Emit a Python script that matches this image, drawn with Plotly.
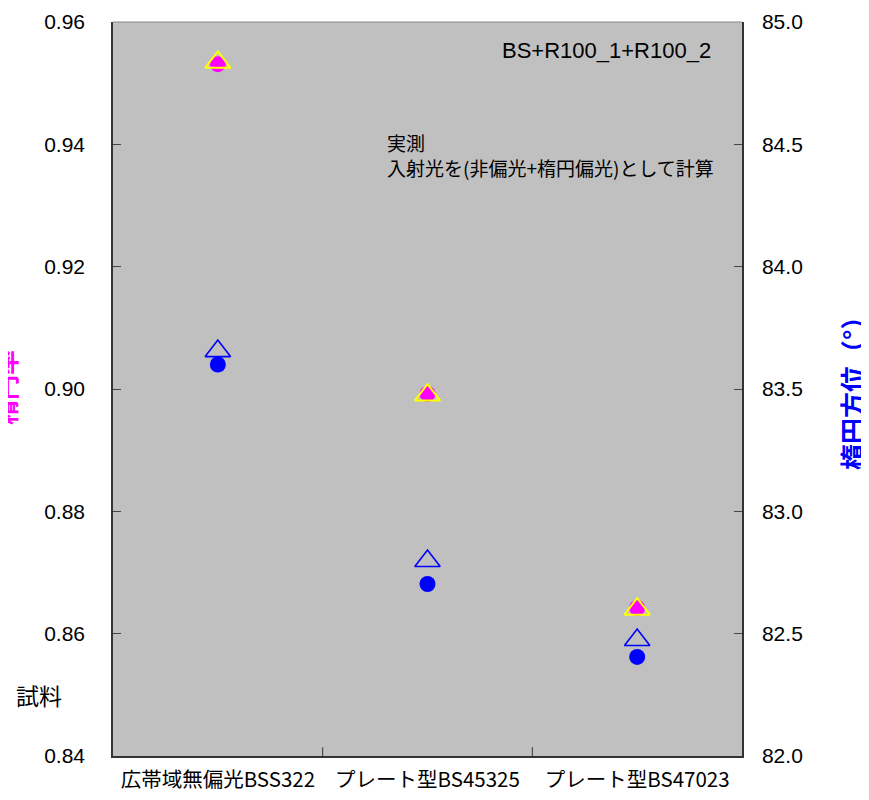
import plotly.graph_objects as go

categories = ["広帯域無偏光BSS322", "プレート型BS45325", "プレート型BS47023"]
ellip_meas = [0.9531, 0.8992, 0.8642]
ellip_calc = [0.9534, 0.8990, 0.8640]
azim_meas = [83.60, 82.703, 82.405]
azim_calc = [83.655, 82.797, 82.474]

left_ticks = [0.84, 0.86, 0.88, 0.90, 0.92, 0.94, 0.96]
right_ticks = [82.0, 82.5, 83.0, 83.5, 84.0, 84.5, 85.0]

xi = list(range(len(categories)))

fig = go.Figure()
fig.add_trace(go.Scatter(x=xi, y=ellip_meas, mode="markers", name="楕円率 実測",
                         marker=dict(symbol="circle", size=16, color="#ff00ff"), yaxis="y"))
fig.add_trace(go.Scatter(x=xi, y=ellip_calc, mode="markers", name="楕円率 計算",
                         marker=dict(symbol="triangle-up-open", size=22, color="#ffff00",
                                     line=dict(width=2, color="#ffff00")), yaxis="y"))
fig.add_trace(go.Scatter(x=xi, y=azim_meas, mode="markers", name="楕円方位 実測",
                         marker=dict(symbol="circle", size=16, color="#0000ff"), yaxis="y2"))
fig.add_trace(go.Scatter(x=xi, y=azim_calc, mode="markers", name="楕円方位 計算",
                         marker=dict(symbol="triangle-up-open", size=22, color="#0000ff",
                                     line=dict(width=1.6, color="#0000ff")), yaxis="y2"))

tickfont = dict(family="Liberation Sans, Arial, sans-serif", size=21, color="black")

fig.update_layout(
    width=869, height=800,
    margin=dict(l=105, r=135, t=14, b=52),
    paper_bgcolor="white", plot_bgcolor="#c0c0c0",
    showlegend=False,
    xaxis=dict(range=[-0.5, 2.5], tickmode="array", tickvals=xi, ticktext=categories,
               ticks="", showgrid=False, zeroline=False, showline=True, linecolor="#333333",
               linewidth=1.5, tickfont=dict(family="Noto Sans CJK JP", size=20.5, color="black"),
               ticklabelstandoff=5, automargin=False),
    yaxis=dict(range=[0.84, 0.96], tickmode="array", tickvals=left_ticks,
               ticktext=[f"{v:.2f}" for v in left_ticks], ticks="inside", ticklen=8,
               tickcolor="#444444", showgrid=False, zeroline=False, showline=True,
               linecolor="#333333", linewidth=1.5, tickfont=tickfont, ticklabelstandoff=22,
               automargin=False),
    yaxis2=dict(range=[82.0, 85.0], overlaying="y", side="right", tickmode="array",
                tickvals=right_ticks, ticktext=[f"{v:.1f}" for v in right_ticks],
                ticks="inside", ticklen=8, tickcolor="#444444", showgrid=False,
                zeroline=False, showline=True, linecolor="#333333", linewidth=1.5,
                tickfont=tickfont, ticklabelstandoff=14, automargin=False),
)

# category boundary ticks (inside, on bottom axis)
for b in [0.5, 1.5]:
    fig.add_shape(type="line", xref="x", yref="paper", x0=b, x1=b, y0=0, y1=0.012,
                  line=dict(color="#333333", width=1))
# top border
fig.add_shape(type="line", xref="paper", yref="paper", x0=0, x1=1, y0=1, y1=1,
              line=dict(color="#888888", width=1))

cjk = "Noto Sans CJK JP"
fig.add_annotation(text="BS+R100_1+R100_2", xref="paper", yref="paper",
                   x=(713 - 113) / 629, y=1 - (50 - 22) / 734, xanchor="right", yanchor="middle",
                   showarrow=False, font=dict(family="Liberation Sans, Arial", size=22, color="black"))
fig.add_annotation(text="実測<br>入射光を(非偏光+楕円偏光)として計算", xref="paper", yref="paper",
                   x=(385 - 113) / 629, y=1 - (155 - 22) / 734, xanchor="left", yanchor="middle",
                   align="left", showarrow=False, font=dict(family=cjk, size=19, color="black"))
fig.add_annotation(text="<b>楕円率</b>", xref="paper", yref="paper",
                   x=(5 - 113) / 629, y=1 - (388 - 22) / 734, xanchor="center", yanchor="middle",
                   textangle=-90, showarrow=False, font=dict(family=cjk, size=25, color="#ff00ff"))
fig.add_annotation(text="<b>楕円方位（°）</b>", xref="paper", yref="paper",
                   x=(851 - 113) / 629, y=1 - (387 - 22) / 734, xanchor="center", yanchor="middle",
                   textangle=-90, showarrow=False, font=dict(family=cjk, size=26, color="#0000ff"))
fig.add_annotation(text="試料", xref="paper", yref="paper",
                   x=(39 - 113) / 629, y=1 - (695 - 22) / 734, xanchor="center", yanchor="middle",
                   showarrow=False, font=dict(family=cjk, size=23, color="black"))

fig.write_html("out.html")
